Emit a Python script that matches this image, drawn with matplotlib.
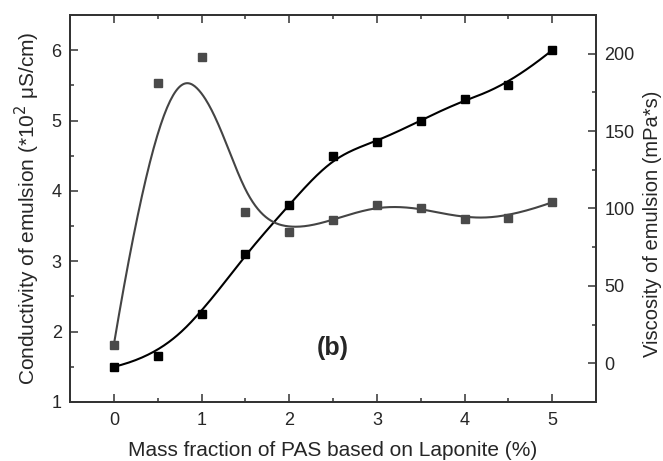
import numpy as np
import matplotlib
matplotlib.use("Agg")
import matplotlib.pyplot as plt
from matplotlib.ticker import MultipleLocator

# data
mass_fraction = [0, 0.5, 1, 1.5, 2, 2.5, 3, 3.5, 4, 4.5, 5]
conductivity = [1.50, 1.65, 2.25, 3.10, 3.80, 4.50, 4.70, 5.00, 5.30, 5.50, 6.00]
viscosity = [12, 181, 198, 98, 85, 92.5, 102, 100.5, 93, 94, 104]

plt.rcParams["font.family"] = ["Liberation Sans", "DejaVu Sans"]


def bspline(px, py, k=3, n=400):
    # clamped cubic B-spline using the data points as control points
    px = np.asarray(px, float)
    py = np.asarray(py, float)
    m = len(px)
    kn = np.r_[[0.0] * k, np.linspace(0, 1, m - k + 1), [1.0] * k]
    t = np.linspace(0, 1, n)
    B = np.array([(kn[j] <= t) & (t < kn[j + 1]) for j in range(m + k)], float).T
    B[-1, m - 1] = 1.0
    for d in range(1, k + 1):
        Bn = np.zeros((n, m + k - d))
        for j in range(m + k - d):
            a = kn[j + d] - kn[j]
            b = kn[j + d + 1] - kn[j + 1]
            if a > 0:
                Bn[:, j] += (t - kn[j]) / a * B[:, j]
            if b > 0:
                Bn[:, j] += (kn[j + d + 1] - t) / b * B[:, j + 1]
        B = Bn
    return B @ px, B @ py


fig = plt.figure(figsize=(6.63, 4.61), dpi=100)
ax = fig.add_axes([0.1056, 0.128, 0.7934, 0.8395])
ax2 = ax.twinx()

text_color = "#262626"

# conductivity, left axis
cx, cy = bspline(mass_fraction, conductivity)
ax.plot(cx, cy, color="black", lw=1.5)
ax.plot(mass_fraction, conductivity, ls="none", marker="s", ms=6,
        color="black")

# viscosity, right axis
vx, vy = bspline(mass_fraction, viscosity)
ax2.plot(vx, vy, color="#444444", lw=1.5)
ax2.plot(mass_fraction, viscosity, ls="none", marker="s", ms=6,
         color="#4a4a4a")

ax.set_xlim(-0.5, 5.5)
ax.set_ylim(1, 6.5)
ax2.set_ylim(-25, 225)

ax.xaxis.set_major_locator(MultipleLocator(1))
ax.xaxis.set_minor_locator(MultipleLocator(0.5))
ax.yaxis.set_major_locator(MultipleLocator(1))
ax.yaxis.set_minor_locator(MultipleLocator(0.5))
ax2.yaxis.set_major_locator(MultipleLocator(50))
ax2.yaxis.set_minor_locator(MultipleLocator(25))

ax.tick_params(which="both", direction="in", top=True, right=False,
               width=1.1, colors="#333333", labelcolor=text_color,
               labelsize=13)
ax.tick_params(which="major", length=6)
ax.tick_params(which="minor", length=3)
ax.tick_params(axis="x", pad=7)
ax.tick_params(axis="y", pad=6)
ax2.tick_params(which="both", direction="in", width=1.1, colors="#333333",
                labelcolor=text_color, labelsize=13, pad=6)
ax2.tick_params(which="major", length=6)
ax2.tick_params(which="minor", length=3)

for a in (ax, ax2):
    for s in a.spines.values():
        s.set_linewidth(1.3)
        s.set_color("#333333")

ax.set_xlabel("Mass fraction of PAS based on Laponite (%)", fontsize=15,
              color=text_color, labelpad=9)
ax.set_ylabel("Conductivity of emulsion (*10$^2$ \u03bcS/cm)", fontsize=15,
              color=text_color, labelpad=7)
ax2.set_ylabel("Viscosity of emulsion (mPa*s)", fontsize=14.5,
               color=text_color, labelpad=6)
# the right label sits a bit below the middle in the original
ax2.yaxis.label.set_y(0.46)

ax.text(2.5, 1.77, "(b)", fontsize=18, fontweight="bold", ha="center",
        va="center", color=text_color)

fig.savefig("out.png", dpi=100)
